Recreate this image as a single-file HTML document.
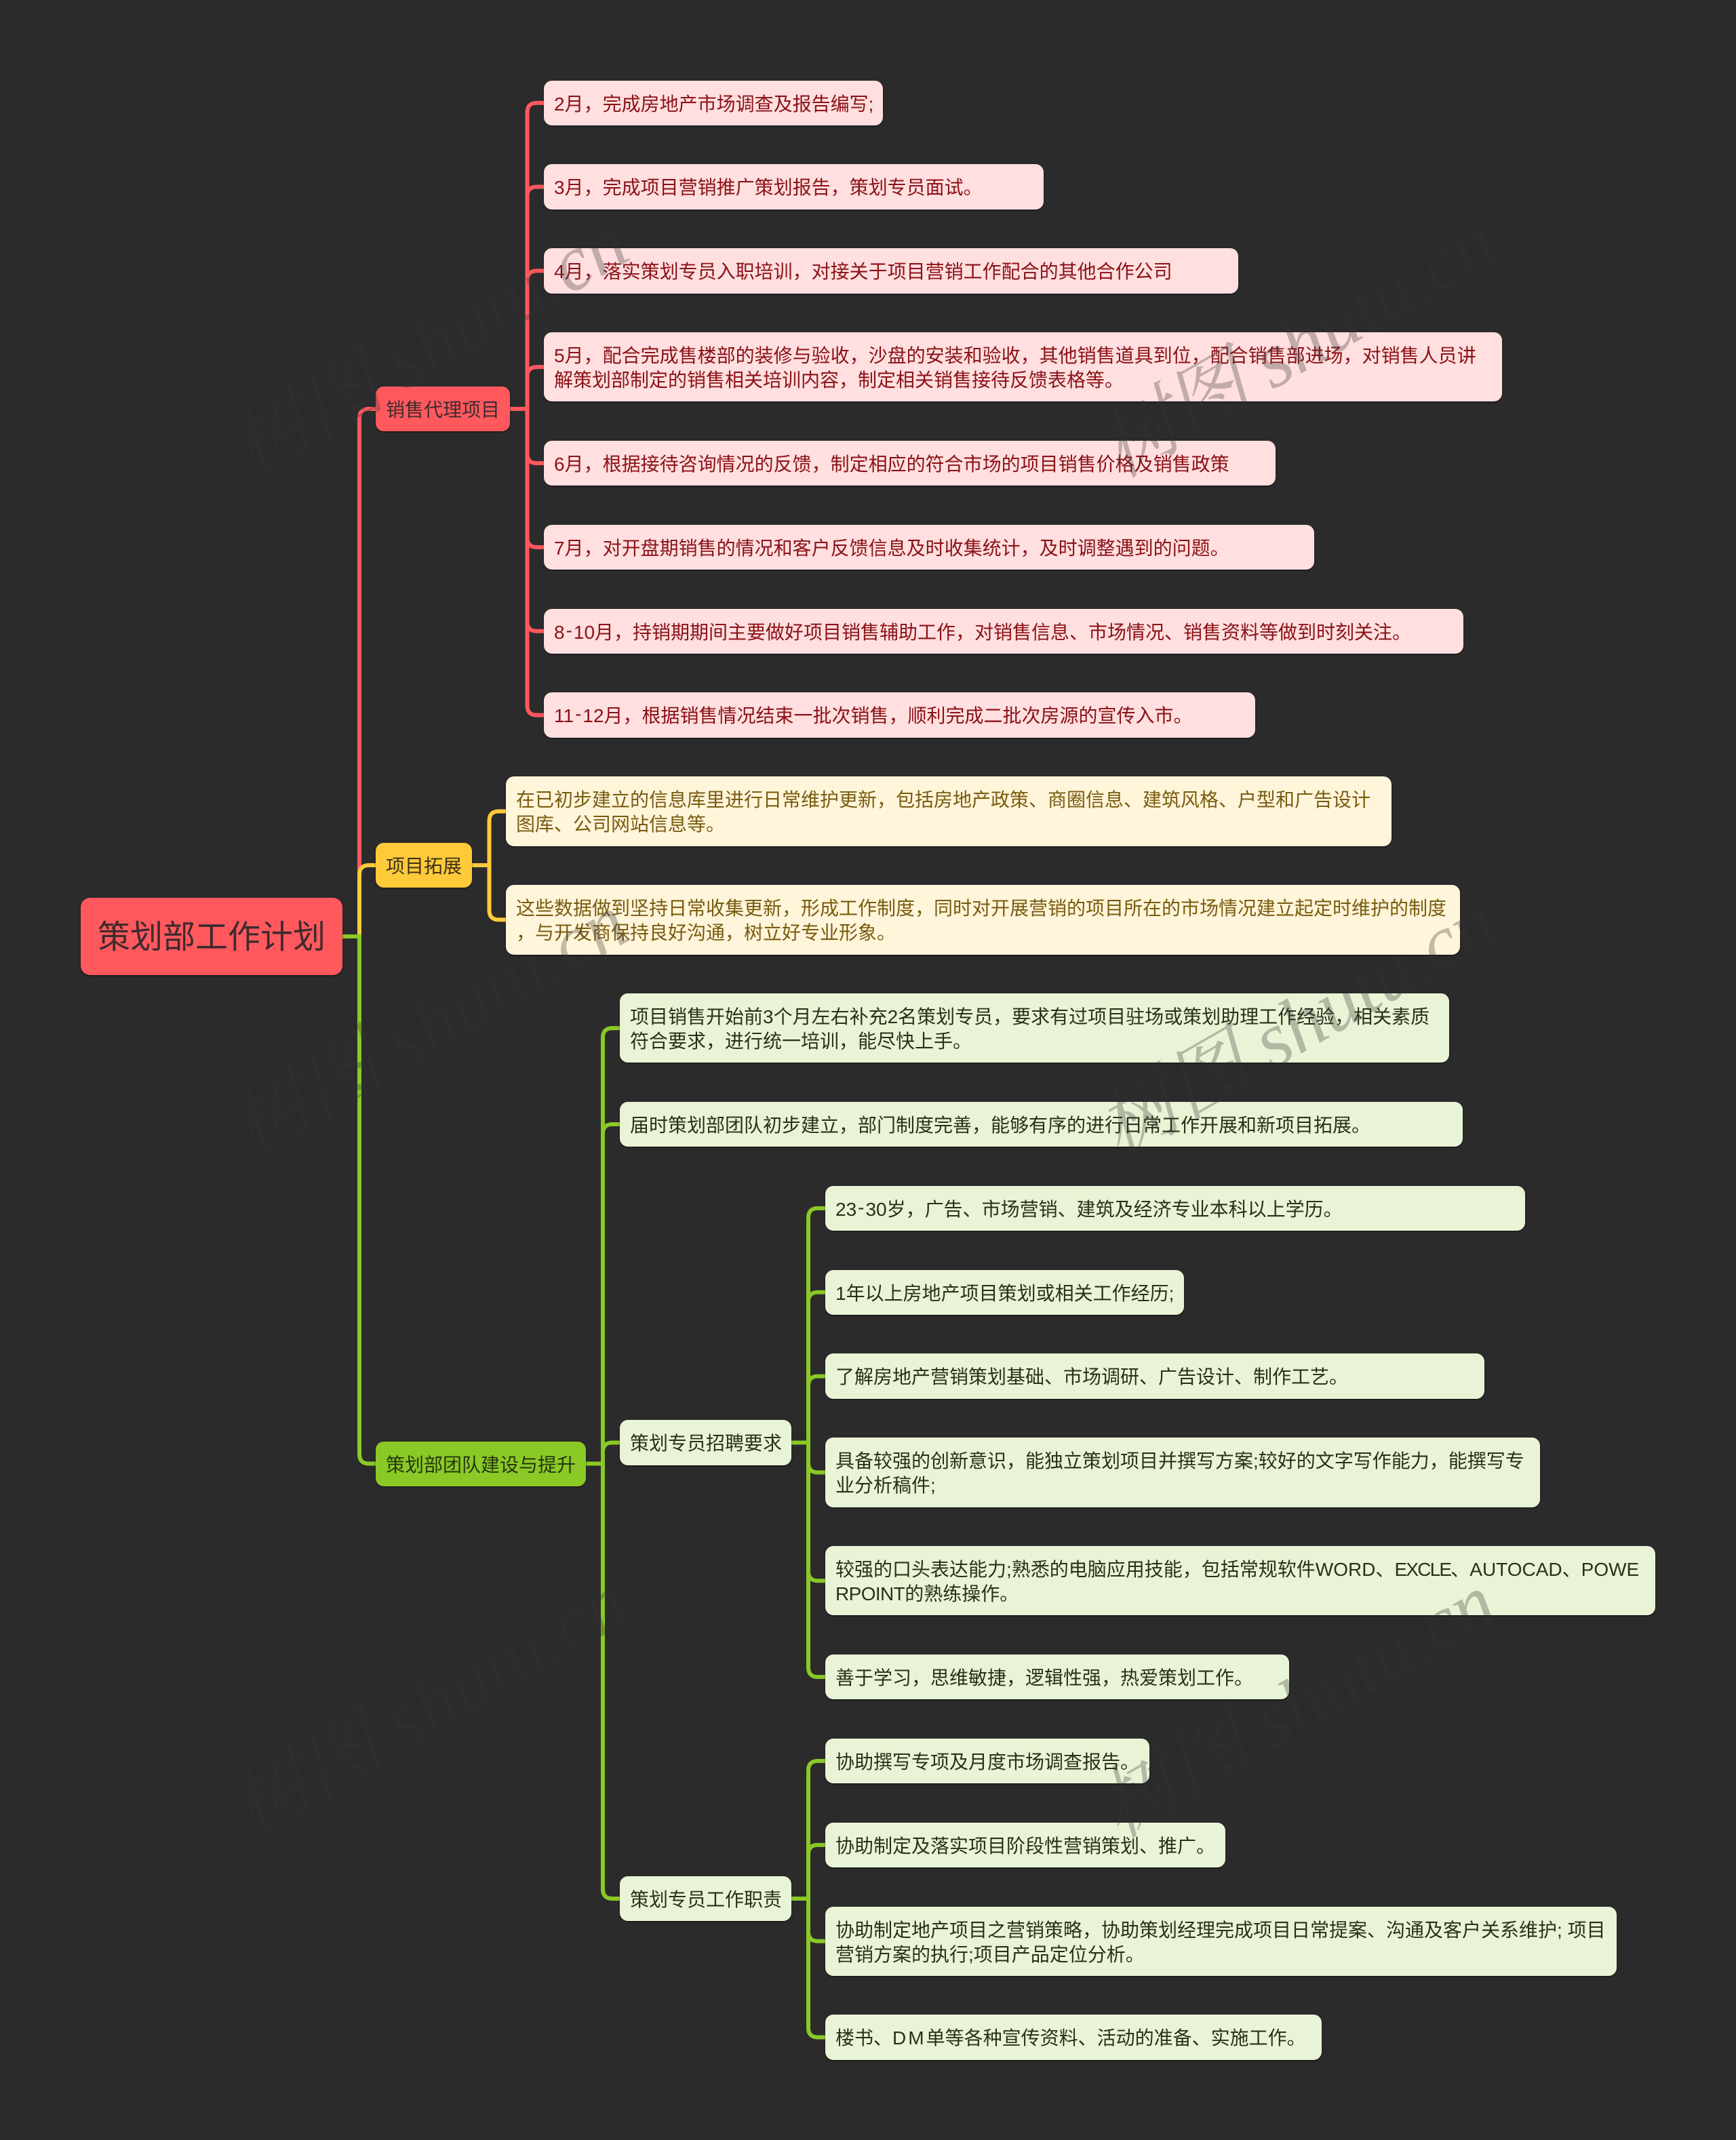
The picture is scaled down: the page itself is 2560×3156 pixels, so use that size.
<!DOCTYPE html>
<html lang="zh"><head><meta charset="utf-8"><title>策划部工作计划</title>
<style>
html,body{margin:0;padding:0;background:#2b2b2b}
#p{position:relative;width:2560px;height:3156px;overflow:hidden;background:#2b2b2b;font-family:"Liberation Sans","Noto Sans CJK SC",sans-serif}
svg{position:absolute;left:0;top:0}
.n{position:absolute;box-sizing:border-box;border-radius:12px;font-size:28px;line-height:36px;padding:17px 0 0 15px;white-space:nowrap;box-shadow:0 1px 2px rgba(0,0,0,.6)}
.d{position:relative;top:-3px;margin:0 2px}
.r{background:#ffdfdf;color:#8b1116}
.y{background:#fff5da;color:#7a5b0f}
.g{background:#e9f4d6;color:#27311a}
.b1{background:#ff595e;color:#3f2a2d}
.b2{background:#ffca3a;color:#3d3118}
.b3{background:#8ac926;color:#26360f}
</style></head><body><div id="p">
<svg width="2560" height="3156" fill="none" stroke-width="6" stroke-linecap="butt">
<g stroke="#ff595e">
<path d="M530 1381V617Q530 603 544 603H554"/>
<path d="M752 603H777.5"/>
<path d="M777.5 603V165.700Q777.500 151.700 791.500 151.700H802"/>
<path d="M777.5 603V289.550Q777.500 275.550 791.500 275.550H802"/>
<path d="M777.5 603V413.400Q777.500 399.400 791.500 399.400H802"/>
<path d="M777.5 603V555.250Q777.500 541.250 791.500 541.250H802"/>
<path d="M777.5 603V669.100Q777.500 683.100 791.500 683.100H802"/>
<path d="M777.5 603V792.950Q777.500 806.950 791.500 806.950H802"/>
<path d="M777.5 603V916.800Q777.500 930.800 791.500 930.800H802"/>
<path d="M777.5 603V1040.650Q777.500 1054.650 791.500 1054.650H802"/>
</g>
<g stroke="#ffca3a">
<path d="M530 1381V1290Q530 1276 544 1276H554"/>
<path d="M696 1276H721.5"/>
<path d="M721.5 1276V1210.500Q721.500 1196.500 735.500 1196.500H746"/>
<path d="M721.5 1276V1342.350Q721.500 1356.350 735.500 1356.350H746"/>
</g>
<g stroke="#8ac926">
<path d="M505 1381H530V2144.500Q530 2158.500 544 2158.500H554"/>
<path d="M864 2158.500H889"/>
<path d="M889 2158.500V1530.200Q889 1516.200 903 1516.200H914"/>
<path d="M889 2158.500V1672Q889 1658 903 1658H914"/>
<path d="M889 2158.500V2141.500Q889 2127.500 903 2127.500H914"/>
<path d="M889 2158.500V2786Q889 2800 903 2800H914"/>
<path d="M1167 2127.500H1192"/>
<path d="M1192 2127.500V1795.900Q1192 1781.900 1206 1781.900H1217"/>
<path d="M1192 2127.500V1919.750Q1192 1905.750 1206 1905.750H1217"/>
<path d="M1192 2127.500V2043.600Q1192 2029.600 1206 2029.600H1217"/>
<path d="M1192 2127.500V2157.450Q1192 2171.450 1206 2171.450H1217"/>
<path d="M1192 2127.500V2317.300Q1192 2331.300 1206 2331.300H1217"/>
<path d="M1192 2127.500V2459.150Q1192 2473.150 1206 2473.150H1217"/>
<path d="M1167 2800H1192"/>
<path d="M1192 2800V2611Q1192 2597 1206 2597H1217"/>
<path d="M1192 2800V2734.850Q1192 2720.850 1206 2720.850H1217"/>
<path d="M1192 2800V2848.700Q1192 2862.700 1206 2862.700H1217"/>
<path d="M1192 2800V2990.550Q1192 3004.550 1206 3004.550H1217"/>
</g>
</svg>

<div class="n b1" style="left:119px;top:1324px;width:386px;height:114px;font-size:48px;line-height:62px;padding:28px 0 0 25px;border-radius:14px">策划部工作计划</div>
<div class="n b1" style="left:554px;top:570px;width:198px;height:66.400px">销售代理项目</div>
<div class="n b2" style="left:554px;top:1243px;width:142px;height:66.400px">项目拓展</div>
<div class="n b3" style="left:554px;top:2125.500px;width:310px;height:66.400px">策划部团队建设与提升</div>

<div class="n r" style="left:802px;top:118.500px;width:500px;height:66.400px">2月，完成房地产市场调查及报告编写;</div>
<div class="n r" style="left:802px;top:242.350px;width:737px;height:66.400px">3月，完成项目营销推广策划报告，策划专员面试。</div>
<div class="n r" style="left:802px;top:366.200px;width:1023.500px;height:66.400px">4月，落实策划专员入职培训，对接关于项目营销工作配合的其他合作公司</div>
<div class="n r" style="left:802px;top:490.050px;width:1413px;height:102.400px">5月，配合完成售楼部的装修与验收，沙盘的安装和验收，其他销售道具到位，配合销售部进场，对销售人员讲<br>解策划部制定的销售相关培训内容，制定相关销售接待反馈表格等。</div>
<div class="n r" style="left:802px;top:649.900px;width:1079px;height:66.400px">6月，根据接待咨询情况的反馈，制定相应的符合市场的项目销售价格及销售政策</div>
<div class="n r" style="left:802px;top:773.750px;width:1136px;height:66.400px">7月，对开盘期销售的情况和客户反馈信息及时收集统计，及时调整遇到的问题。</div>
<div class="n r" style="left:802px;top:897.600px;width:1355.500px;height:66.400px">8<span class="d">-</span>10月，持销期期间主要做好项目销售辅助工作，对销售信息、市场情况、销售资料等做到时刻关注。</div>
<div class="n r" style="left:802px;top:1021.450px;width:1049px;height:66.400px">11<span class="d">-</span>12月，根据销售情况结束一批次销售，顺利完成二批次房源的宣传入市。</div>

<div class="n y" style="left:746px;top:1145.300px;width:1306px;height:102.400px">在已初步建立的信息库里进行日常维护更新，包括房地产政策、商圈信息、建筑风格、户型和广告设计<br>图库、公司网站信息等。</div>
<div class="n y" style="left:746px;top:1305.150px;width:1406.500px;height:102.400px">这些数据做到坚持日常收集更新，形成工作制度，同时对开展营销的项目所在的市场情况建立起定时维护的制度<br>，与开发商保持良好沟通，树立好专业形象。</div>

<div class="n g" style="left:914px;top:1465px;width:1223px;height:102.400px">项目销售开始前3个月左右补充2名策划专员，要求有过项目驻场或策划助理工作经验，相关素质<br>符合要求，进行统一培训，能尽快上手。</div>
<div class="n g" style="left:914px;top:1624.850px;width:1243px;height:66.400px">届时策划部团队初步建立，部门制度完善，能够有序的进行日常工作开展和新项目拓展。</div>
<div class="n g" style="left:914px;top:2094.300px;width:253px;height:66.400px">策划专员招聘要求</div>
<div class="n g" style="left:914px;top:2766.800px;width:253px;height:66.400px">策划专员工作职责</div>

<div class="n g" style="left:1217px;top:1748.700px;width:1032px;height:66.400px">23<span class="d">-</span>30岁，广告、市场营销、建筑及经济专业本科以上学历。</div>
<div class="n g" style="left:1217px;top:1872.550px;width:529px;height:66.400px">1年以上房地产项目策划或相关工作经历;</div>
<div class="n g" style="left:1217px;top:1996.400px;width:972px;height:66.400px">了解房地产营销策划基础、市场调研、广告设计、制作工艺。</div>
<div class="n g" style="left:1217px;top:2120.250px;width:1054px;height:102.400px">具备较强的创新意识，能独立策划项目并撰写方案;较好的文字写作能力，能撰写专<br>业分析稿件;</div>
<div class="n g" style="left:1217px;top:2280.100px;width:1224px;height:102.400px">较强的口头表达能力;熟悉的电脑应用技能，包括常规软件WORD、<span style="letter-spacing:-1.8px">EXCLE</span>、AUTOCAD、POWE<br><span style="letter-spacing:-.6px">RPOINT</span>的熟练操作。</div>
<div class="n g" style="left:1217px;top:2439.950px;width:684px;height:66.400px">善于学习，思维敏捷，逻辑性强，热爱策划工作。</div>
<div class="n g" style="left:1217px;top:2563.800px;width:478px;height:66.400px">协助撰写专项及月度市场调查报告。</div>
<div class="n g" style="left:1217px;top:2687.650px;width:590px;height:66.400px">协助制定及落实项目阶段性营销策划、推广。</div>
<div class="n g" style="left:1217px;top:2811.500px;width:1167px;height:102.400px">协助制定地产项目之营销策略，协助策划经理完成项目日常提案、沟通及客户关系维护; 项目<br>营销方案的执行;项目产品定位分析。</div>
<div class="n g" style="left:1217px;top:2971.350px;width:732px;height:66.400px">楼书、<span style="letter-spacing:3px">DM</span>单等各种宣传资料、活动的准备、实施工作。</div>

<svg width="2560" height="3156" style="pointer-events:none">
<g fill="#333333" fill-opacity=".3" font-family="'Liberation Serif','Noto Serif CJK SC',serif" font-style="italic" font-size="116">
<text transform="translate(1650 706) rotate(-30)">树图 shutu.cn</text>
<text transform="translate(1650 1709) rotate(-30)">树图 shutu.cn</text>
<text transform="translate(1650 2712) rotate(-30)">树图 shutu.cn</text>
<text transform="translate(370 706) rotate(-30)">树图 shutu.cn</text>
<text transform="translate(370 1709) rotate(-30)">树图 shutu.cn</text>
<text transform="translate(370 2712) rotate(-30)">树图 shutu.cn</text>
</g>
</svg>
</div></body></html>
